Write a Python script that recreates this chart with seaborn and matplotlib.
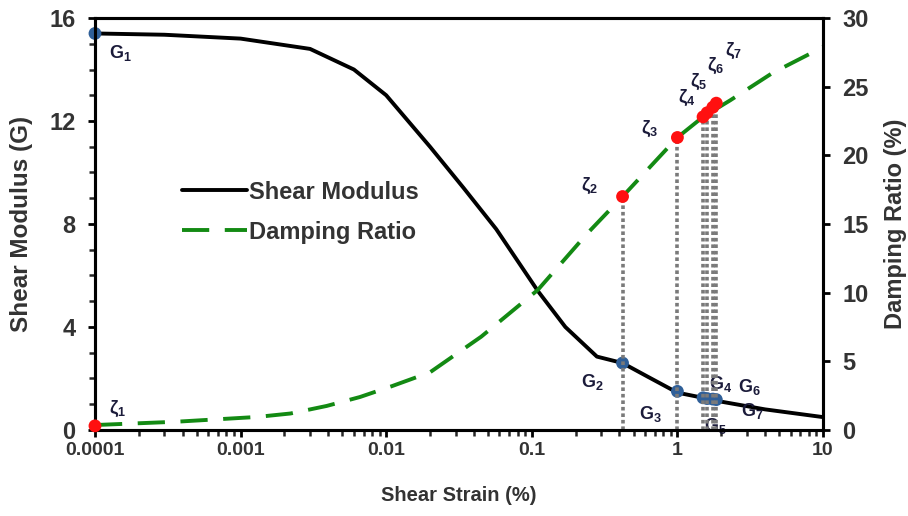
import matplotlib
matplotlib.use('Agg')
import matplotlib.pyplot as plt
import seaborn as sns
from matplotlib.lines import Line2D

# shear modulus curve
strain_g = [0.0001, 0.0003, 0.001, 0.003, 0.006, 0.01, 0.02, 0.034, 0.057, 0.11, 0.17,
            0.28, 0.42, 0.63, 1.0, 1.5, 2.0, 4.0, 10]
shear_mod = [15.4, 15.35, 15.2, 14.8, 14.0, 13.0, 11.0, 9.4, 7.8, 5.4, 4.0,
             2.85, 2.6, 2.06, 1.45, 1.25, 1.1, 0.8, 0.5]

# damping ratio curve
strain_d = [0.0001, 0.00036, 0.0013, 0.0022, 0.0039, 0.0066, 0.011, 0.02, 0.045,
            0.11, 0.24, 0.42, 1.0, 1.5, 2.3, 4.5, 8.5, 10]
damping = [0.36, 0.6, 0.95, 1.2, 1.75, 2.4, 3.2, 4.2, 6.8,
           10.2, 14.3, 17.0, 21.3, 22.8, 24.0, 26.0, 27.5, 27.9]

# marked points
pt_strain = [0.0001, 0.42, 1.0, 1.5, 1.6, 1.75, 1.85]
pt_g = [15.4, 2.6, 1.5, 1.25, 1.22, 1.2, 1.18]
pt_d = [0.3, 17.0, 21.3, 22.8, 23.1, 23.5, 23.8]
g_labels = [r'G$_1$', r'G$_2$', r'G$_3$', r'G$_4$', r'G$_5$', r'G$_6$', r'G$_7$']
z_labels = [r'$\zeta_1$', r'$\zeta_2$', r'$\zeta_3$', r'$\zeta_4$', r'$\zeta_5$', r'$\zeta_6$', r'$\zeta_7$']
g_offsets = [(10, -14), (-30, -14), (-28, -16), (4, 10), (-2, -20), (18, 9), (18, -8)]
z_offsets = [(10, 12), (-30, 8), (-26, 6), (-18, 14), (-12, 22), (-4, 30), (6, 38)]

sns.set_style('ticks')
plt.rcParams['font.family'] = ['Liberation Sans', 'DejaVu Sans']
plt.rcParams['font.weight'] = 'bold'
plt.rcParams['mathtext.default'] = 'regular'

fig = plt.figure(figsize=(9.08, 5.16), dpi=100)
ax = fig.add_axes([0.1046, 0.1667, 0.8018, 0.7984])
ax2 = ax.twinx()

sns.lineplot(x=strain_g, y=shear_mod, ax=ax, color='black', linewidth=2.8,
             sort=False, legend=False)
sns.lineplot(x=strain_d, y=damping, ax=ax2, color='#138a13', linewidth=2.8,
             linestyle=(0, (7, 4)), sort=False, legend=False)

# dotted drop lines
for s, d in zip(pt_strain[1:], pt_d[1:]):
    ax2.plot([s, s], [0, d], color='#7a7a7a', linestyle=(0, (1, 0.8)), linewidth=2.6, zorder=1)

sns.scatterplot(x=pt_strain, y=pt_g, ax=ax, color='#2f5f98', s=85,
                edgecolor='none', zorder=5, legend=False, clip_on=False)
sns.scatterplot(x=pt_strain, y=pt_d, ax=ax2, color='#ff1010', s=85,
                edgecolor='none', zorder=5, legend=False, clip_on=False)

for s, g, lab, off in zip(pt_strain, pt_g, g_labels, g_offsets):
    ax.annotate(lab, (s, g), xytext=off, textcoords='offset points',
                fontsize=13, color='#1b1b3a', ha='left', va='center')
for s, d, lab, off in zip(pt_strain, pt_d, z_labels, z_offsets):
    ax2.annotate(lab, (s, d), xytext=off, textcoords='offset points',
                 fontsize=13, color='#1b1b3a', ha='left', va='center')

ax.set_xscale('log')
ax.set_xlim(0.0001, 10)
ax.set_ylim(0, 16)
ax2.set_ylim(0, 30)
ax.set_yticks([0, 4, 8, 12, 16])
ax.set_yticks(range(0, 17), minor=True)
ax2.set_yticks([0, 5, 10, 15, 20, 25, 30])
ax.set_xticks([0.0001, 0.001, 0.01, 0.1, 1, 10])
ax.set_xticklabels(['0.0001', '0.001', '0.01', '0.1', '1', '10'])

ax.set_xlabel('Shear Strain (%)', fontsize=14.5, fontweight='bold', color='#333333', va='center')
ax.xaxis.set_label_coords(0.5, -0.158)
ax.set_ylabel('Shear Modulus (G)', fontsize=17.5, fontweight='bold', color='#333333', va='center')
ax.yaxis.set_label_coords(-0.1003, 0.5)
ax2.set_ylabel('Damping Ratio (%)', fontsize=17, fontweight='bold', color='#333333', va='center')
ax2.yaxis.set_label_coords(1.099, 0.5)

for a in (ax, ax2):
    for sp in a.spines.values():
        sp.set_linewidth(2.2)
        sp.set_color('black')
        sp.set_visible(True)
    a.tick_params(which='major', direction='out', length=5, width=2,
                  colors='black', labelcolor='#333333')
    a.tick_params(which='minor', direction='out', length=4, width=1.8)
ax2.tick_params(which='minor', right=False)
ax.tick_params(axis='y', which='major', pad=9, labelsize=17)
ax2.tick_params(axis='y', which='major', pad=9, labelsize=17)
ax.tick_params(axis='x', which='major', labelsize=14)

handles = [Line2D([], [], color='black', linewidth=2.8),
           Line2D([], [], color='#138a13', linewidth=2.8, linestyle=(0, (7, 4)))]
leg = ax.legend(handles, ['Shear Modulus', 'Damping Ratio'], loc='upper left',
                bbox_to_anchor=(0.09, 0.657), frameon=False,
                prop={'size': 17, 'weight': 'bold'},
                handlelength=2.75, handletextpad=0.1, labelspacing=0.72)
for t in leg.get_texts():
    t.set_color('#333333')

fig.savefig('out.png', dpi=100)
